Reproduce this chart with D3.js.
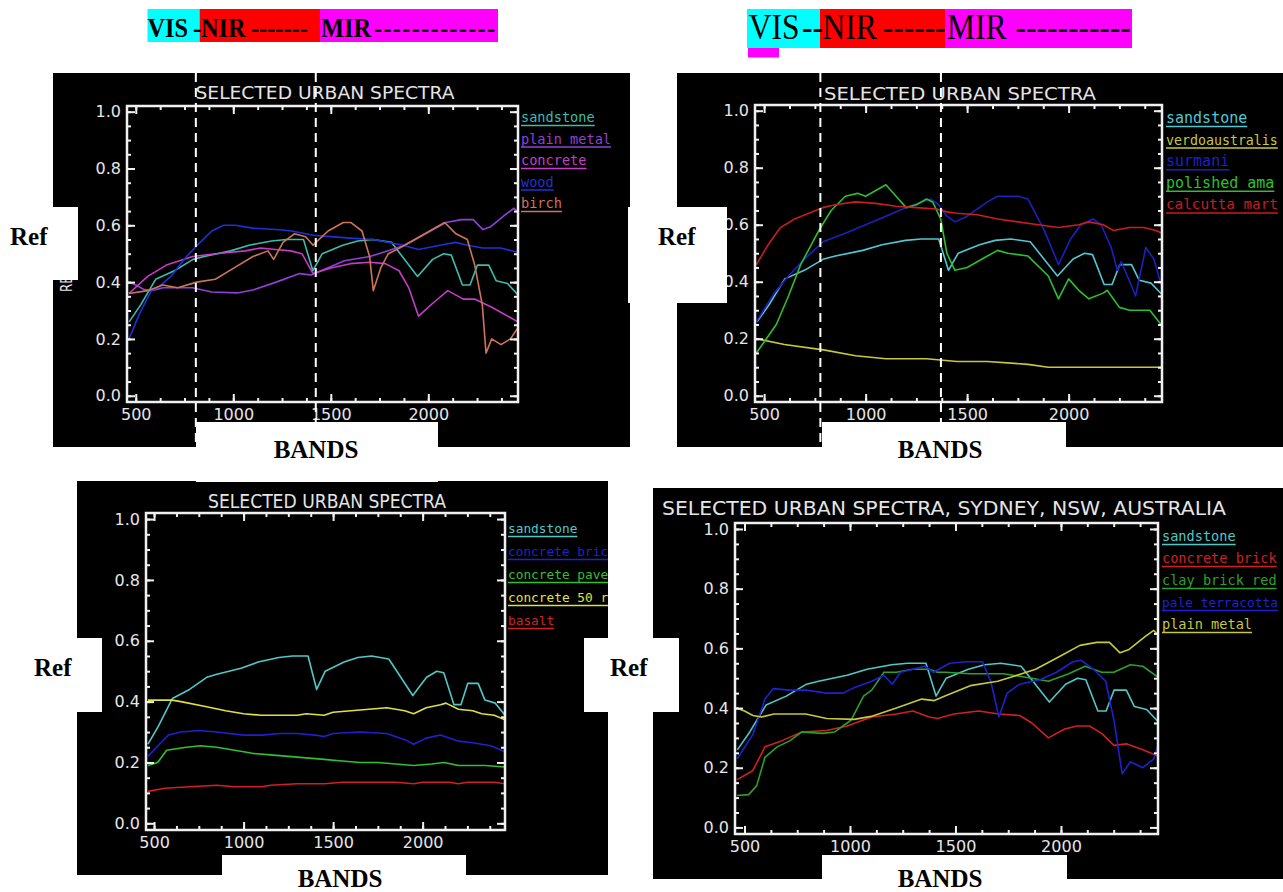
<!DOCTYPE html>
<html><head><meta charset="utf-8">
<script src="https://cdn.jsdelivr.net/npm/d3@7"></script>
<style>body{margin:0;background:#fff;}svg{display:block}</style>
</head><body>
<svg id="c" width="1283" height="892"></svg>
<script>
// ---------- data ----------
const xTickValues = [500, 1000, 1500, 2000];
const xMinorValues = [500, 625, 750, 875, 1000, 1125, 1250, 1375, 1500, 1625, 1750, 1875, 2000, 2125, 2250, 2375];
const yTickValues = [0.0, 0.2, 0.4, 0.6, 0.8, 1.0];
const yMinorValues = [0, 0.05, 0.1, 0.15, 0.2, 0.25, 0.3, 0.35, 0.4, 0.45, 0.5, 0.55, 0.6, 0.65, 0.7, 0.75, 0.8, 0.85, 0.9, 0.95, 1.0];
const yTickLabels = ["0.0", "0.2", "0.4", "0.6", "0.8", "1.0"];
const xTickLabels = ["500", "1000", "1500", "2000"];

const sandstone = [[466,0.26],[525,0.32],[602,0.41],[698,0.44],[794,0.48],[851,0.49],[986,0.51],[1081,0.53],[1197,0.545],[1273,0.55],[1360,0.55],[1408,0.44],[1456,0.50],[1561,0.53],[1638,0.545],[1715,0.55],[1811,0.54],[1945,0.42],[2022,0.48],[2079,0.50],[2118,0.495],[2175,0.39],[2214,0.39],[2252,0.46],[2310,0.46],[2348,0.405],[2406,0.395],[2460,0.355]];
const plainMetal = [[462,0.40],[500,0.39],[540,0.375],[580,0.37],[640,0.38],[790,0.38],[890,0.365],[1020,0.362],[1100,0.372],[1220,0.40],[1340,0.43],[1400,0.425],[1450,0.44],[1570,0.475],[1700,0.49],[1770,0.505],[1880,0.53],[2000,0.575],[2090,0.61],[2170,0.62],[2230,0.62],[2280,0.585],[2320,0.595],[2400,0.64],[2440,0.66],[2460,0.645]];
const concrete = [[465,0.36],[561,0.42],[657,0.46],[792,0.49],[908,0.50],[1062,0.51],[1139,0.52],[1217,0.515],[1294,0.51],[1352,0.50],[1409,0.43],[1500,0.45],[1600,0.465],[1700,0.47],[1780,0.465],[1850,0.44],[1900,0.38],[1950,0.28],[2030,0.33],[2100,0.37],[2180,0.34],[2240,0.34],[2330,0.31],[2460,0.26]];
const wood = [[465,0.20],[520,0.29],[580,0.37],[620,0.385],[680,0.42],[760,0.49],[830,0.54],[890,0.58],[950,0.60],[1010,0.60],[1100,0.59],[1220,0.585],[1300,0.58],[1410,0.565],[1500,0.56],[1600,0.555],[1720,0.55],[1870,0.53],[1950,0.515],[2060,0.53],[2140,0.54],[2200,0.53],[2280,0.52],[2370,0.52],[2460,0.505]];
const birch = [[465,0.36],[561,0.37],[638,0.39],[715,0.38],[812,0.40],[908,0.41],[1004,0.45],[1101,0.49],[1178,0.51],[1207,0.48],[1255,0.54],[1313,0.57],[1371,0.56],[1409,0.53],[1486,0.58],[1564,0.61],[1602,0.61],[1660,0.58],[1699,0.49],[1718,0.37],[1756,0.45],[1795,0.50],[1853,0.52],[1930,0.55],[2007,0.58],[2084,0.61],[2142,0.57],[2200,0.55],[2238,0.46],[2277,0.32],[2296,0.15],[2325,0.20],[2373,0.18],[2421,0.20],[2460,0.24]];

const verdoaustralis = [[462,0.20],[600,0.18],[800,0.16],[950,0.14],[1100,0.13],[1300,0.13],[1450,0.12],[1600,0.12],[1800,0.11],[1900,0.10],[2460,0.10]];
const surmani = [[462,0.26],[550,0.36],[620,0.42],[700,0.48],[790,0.54],[900,0.57],[1000,0.60],[1100,0.63],[1200,0.66],[1320,0.69],[1360,0.67],[1400,0.63],[1440,0.61],[1500,0.63],[1600,0.68],[1650,0.70],[1750,0.70],[1800,0.69],[1880,0.58],[1950,0.46],[2010,0.55],[2060,0.60],[2120,0.62],[2160,0.60],[2210,0.52],[2240,0.44],[2260,0.47],[2330,0.35],[2380,0.52],[2420,0.48],[2455,0.39]];
const polishedAmarillo = [[462,0.15],[560,0.25],[620,0.35],[680,0.46],[770,0.58],[830,0.65],[900,0.70],[960,0.71],[1000,0.70],[1050,0.72],[1100,0.74],[1150,0.70],[1200,0.66],[1250,0.67],[1300,0.69],[1330,0.68],[1370,0.62],[1400,0.50],[1440,0.44],[1500,0.45],[1600,0.49],[1650,0.51],[1700,0.50],[1800,0.49],[1900,0.42],[1950,0.34],[2000,0.41],[2050,0.37],[2100,0.34],[2170,0.36],[2190,0.37],[2250,0.31],[2300,0.30],[2400,0.30],[2455,0.25]];
const calcuttaMarble = [[462,0.46],[520,0.53],[580,0.59],[650,0.62],[720,0.64],[790,0.66],[850,0.67],[950,0.68],[1050,0.675],[1150,0.665],[1250,0.66],[1350,0.655],[1400,0.645],[1450,0.64],[1550,0.635],[1650,0.62],[1750,0.61],[1850,0.60],[1950,0.59],[2050,0.60],[2100,0.61],[2170,0.60],[2220,0.58],[2300,0.59],[2370,0.59],[2430,0.58],[2460,0.57]];

const concreteBrickA = [[466,0.22],[530,0.26],[580,0.29],[650,0.30],[750,0.305],[850,0.30],[1000,0.29],[1100,0.29],[1200,0.295],[1300,0.295],[1400,0.29],[1450,0.285],[1500,0.295],[1650,0.30],[1800,0.295],[1900,0.275],[1950,0.26],[2020,0.28],[2100,0.29],[2200,0.27],[2280,0.265],[2380,0.255],[2460,0.235]];
const concretePaver = [[466,0.19],[520,0.20],[570,0.24],[680,0.25],[760,0.255],[850,0.25],[950,0.24],[1050,0.23],[1150,0.225],[1250,0.22],[1350,0.215],[1450,0.21],[1550,0.205],[1650,0.20],[1750,0.20],[1850,0.195],[1950,0.19],[2050,0.195],[2120,0.20],[2200,0.19],[2350,0.19],[2460,0.185]];
const concrete50 = [[466,0.405],[600,0.405],[650,0.40],[780,0.385],[900,0.37],[1000,0.36],[1100,0.355],[1300,0.355],[1350,0.36],[1450,0.355],[1500,0.365],[1600,0.37],[1700,0.375],[1800,0.38],[1900,0.37],[1950,0.36],[2020,0.38],[2100,0.39],[2130,0.395],[2200,0.375],[2280,0.37],[2330,0.36],[2400,0.355],[2460,0.34]];
const basalt = [[466,0.105],[560,0.115],[700,0.12],[850,0.125],[950,0.12],[1100,0.12],[1150,0.125],[1300,0.13],[1450,0.13],[1550,0.135],[1700,0.135],[1850,0.135],[1950,0.13],[2000,0.135],[2150,0.135],[2200,0.13],[2250,0.135],[2400,0.135],[2460,0.13]];

const concreteBrickB = [[465,0.16],[539,0.19],[597,0.27],[675,0.29],[772,0.32],[889,0.325],[986,0.34],[1103,0.37],[1220,0.38],[1298,0.39],[1376,0.37],[1415,0.365],[1492,0.38],[1609,0.39],[1706,0.38],[1804,0.375],[1862,0.35],[1940,0.30],[2018,0.33],[2076,0.34],[2135,0.34],[2193,0.315],[2251,0.275],[2310,0.28],[2388,0.26],[2456,0.24]];
const clayBrickRed = [[465,0.107],[520,0.11],[558,0.14],[597,0.235],[655,0.27],[714,0.29],[772,0.32],[869,0.315],[928,0.32],[1006,0.36],[1064,0.44],[1103,0.46],[1161,0.52],[1220,0.52],[1298,0.53],[1376,0.53],[1415,0.52],[1453,0.52],[1570,0.515],[1726,0.515],[1862,0.50],[1940,0.49],[2037,0.515],[2115,0.54],[2193,0.52],[2251,0.52],[2329,0.545],[2388,0.54],[2456,0.505]];
const paleTerracotta = [[465,0.23],[539,0.31],[597,0.43],[636,0.465],[714,0.46],[792,0.46],[889,0.45],[967,0.45],[1025,0.47],[1103,0.49],[1161,0.51],[1200,0.48],[1240,0.52],[1356,0.54],[1395,0.52],[1473,0.55],[1550,0.555],[1628,0.555],[1667,0.49],[1706,0.37],[1745,0.45],[1804,0.48],[1901,0.495],[1979,0.52],[2057,0.555],[2096,0.56],[2154,0.53],[2212,0.49],[2251,0.36],[2290,0.18],[2329,0.22],[2388,0.20],[2440,0.23],[2460,0.275]];

const bandEdgesA = [808, 1423];
const bandEdgesB = [777, 1371];

// header segments: [text, x position]
const headerTextA = [["VIS",147.5],["-",193],["NIR",201],["-------",251],["MIR",321],["-------------",374]];
const headerTextB = [["VIS",748.7],["--",802],["NIR",822.6],["------",882.7],["MIR",947],["-----------",1015.5]];

// ---------- layout ----------
const svg = d3.select("#c");
const xDomain = [455, 2460];
const yDomain = [-0.022, 1.02];

const panels = [
  {id:"p1", bg:[53,73,577,374], f:{l:127,t:106,r:518,b:402}, title:"SELECTED URBAN SPECTRA", tx:325, ty:98.5, tw:259, tfs:18,
   legX:521, legY:122, legDy:21.5, lfs:13.6, edges:bandEdgesA, ytitle:[72,250,84],
   series:[["sandstone",sandstone,"#3cbcac"],["plain metal",plainMetal,"#9040d8"],["concrete",concrete,"#c83cc8"],["wood",wood,"#2030d8"],["birch",birch,"#d07458"]]},
  {id:"p2", bg:[677,73,606,374], f:{l:755,t:105,r:1162,b:402}, title:"SELECTED URBAN SPECTRA", tx:960, ty:100, tw:272, tfs:18,
   legX:1166, legY:123, legDy:21.6, lfs:15, edges:bandEdgesB, ytitle:null,
   series:[["sandstone",sandstone,"#50c8d4"],["verdoaustralis",verdoaustralis,"#c8c83c"],["surmani",surmani,"#1c20c0"],["polished ama",polishedAmarillo,"#2cc02c"],["calcutta mart",calcuttaMarble,"#c81e1e"]]},
  {id:"p3", bg:[77,481,531,394], f:{l:146,t:513,r:505,b:830}, title:"SELECTED URBAN SPECTRA", tx:327, ty:508, tw:238, tfs:20,
   legX:508, legY:533, legDy:23, lfs:12.8, edges:[], ytitle:null,
   series:[["sandstone",sandstone,"#50c8c8"],["concrete brick",concreteBrickA,"#2020d0"],["concrete pave",concretePaver,"#30c030"],["concrete 50 r",concrete50,"#e0e040"],["basalt",basalt,"#d02020"]]},
  {id:"p4", bg:[653,488,630,391], f:{l:735,t:523,r:1158,b:834}, title:"SELECTED URBAN SPECTRA, SYDNEY, NSW, AUSTRALIA", tx:944, ty:515, tw:564, tfs:20,
   legX:1162, legY:541, legDy:22, lfs:13.6, edges:[], ytitle:null,
   series:[["sandstone",sandstone,"#50c8c8"],["concrete brick",concreteBrickB,"#d02020"],["clay brick red",clayBrickRed,"#2ca02c"],["pale terracotta",paleTerracotta,"#2020d0"],["plain metal",plainMetal,"#c8c83c"]]}
];

const tickFont = "'DejaVu Sans', sans-serif";
const legendFont = "'DejaVu Sans Mono', monospace";
const pageRight = 1280;

panels.forEach(p => {
  const [bx,by,bw,bh] = p.bg;
  svg.append("clipPath").attr("id","clip-"+p.id).append("rect").attr("x",bx).attr("y",by).attr("width",bw).attr("height",bh);
  const g = svg.append("g").attr("clip-path","url(#clip-"+p.id+")");
  g.append("rect").attr("x",bx).attr("y",by).attr("width",bw).attr("height",bh).attr("fill","#000");

  const x = d3.scaleLinear().domain(xDomain).range([p.f.l, p.f.r]);
  const y = d3.scaleLinear().domain(yDomain).range([p.f.b, p.f.t]);

  g.append("text").attr("x",p.tx).attr("y",p.ty).attr("text-anchor","middle")
    .attr("fill","#e4e4e4").attr("font-family",tickFont).attr("font-size",p.tfs)
    .attr("textLength",p.tw).attr("lengthAdjust","spacingAndGlyphs").text(p.title);

  if (p.ytitle) {
    g.append("text").attr("transform",`translate(${p.ytitle[0]},${p.ytitle[1]}) rotate(-90)`).attr("text-anchor","middle")
      .attr("fill","#e4e4e4").attr("font-family",tickFont).attr("font-size",15)
      .attr("textLength",p.ytitle[2]).attr("lengthAdjust","spacingAndGlyphs").text("REFLECTANCE");
  }

  const line = d3.line().x(d=>x(d[0])).y(d=>y(d[1]));
  p.series.forEach(s => {
    g.append("path").datum(s[1]).attr("d",line).attr("fill","none").attr("stroke",s[2]).attr("stroke-width",1.6).attr("stroke-linejoin","round");
  });

  const axStyle = sel => { sel.select(".domain").remove(); sel.selectAll("line").attr("stroke","#f0f0f0").attr("stroke-width",2); sel.selectAll("text").attr("fill","#e6e6e6").attr("font-family",tickFont).attr("font-size",16); };
  g.append("g").attr("transform",`translate(0,${p.f.b})`).call(d3.axisBottom(x).tickValues(xMinorValues).tickSize(-4).tickFormat("")).call(axStyle);
  g.append("g").attr("transform",`translate(0,${p.f.b})`).call(d3.axisBottom(x).tickValues(xTickValues).tickSize(-8).tickPadding(7).tickFormat((d,i)=>xTickLabels[i])).call(axStyle);
  g.append("g").attr("transform",`translate(0,${p.f.t})`).call(d3.axisTop(x).tickValues(xMinorValues).tickSize(-4).tickFormat("")).call(axStyle);
  g.append("g").attr("transform",`translate(0,${p.f.t})`).call(d3.axisTop(x).tickValues(xTickValues).tickSize(-8).tickFormat("")).call(axStyle);
  g.append("g").attr("transform",`translate(${p.f.l},0)`).call(d3.axisLeft(y).tickValues(yMinorValues).tickSize(-4).tickFormat("")).call(axStyle);
  g.append("g").attr("transform",`translate(${p.f.l},0)`).call(d3.axisLeft(y).tickValues(yTickValues).tickSize(-8).tickPadding(6).tickFormat((d,i)=>yTickLabels[i])).call(axStyle);
  g.append("g").attr("transform",`translate(${p.f.r},0)`).call(d3.axisRight(y).tickValues(yMinorValues).tickSize(-4).tickFormat("")).call(axStyle);
  g.append("g").attr("transform",`translate(${p.f.r},0)`).call(d3.axisRight(y).tickValues(yTickValues).tickSize(-8).tickFormat("")).call(axStyle);

  g.append("rect").attr("x",p.f.l).attr("y",p.f.t).attr("width",p.f.r-p.f.l).attr("height",p.f.b-p.f.t)
    .attr("fill","none").attr("stroke","#f0f0f0").attr("stroke-width",2.5);

  p.edges.forEach(e => {
    g.append("line").attr("x1",x(e)).attr("x2",x(e)).attr("y1",by).attr("y2",by+bh)
      .attr("stroke","#fff").attr("stroke-width",2).attr("stroke-dasharray","9,6");
  });

  p.series.forEach((s,i) => {
    const ly = p.legY + i*p.legDy;
    const t = g.append("text").attr("x",p.legX).attr("y",ly).attr("fill",s[2])
      .attr("font-family",legendFont).attr("font-size",p.lfs).text(s[0]);
    let w = t.node().getComputedTextLength();
    if (p.legX + w > pageRight - 2) {   // shrink words that would run off the page edge
      const fs = p.lfs * (pageRight - 2 - p.legX) / w;
      t.attr("font-size", fs);
      w = t.node().getComputedTextLength();
    }
    g.append("line").attr("x1",p.legX).attr("x2",p.legX+w).attr("y1",ly+3.5).attr("y2",ly+3.5).attr("stroke",s[2]).attr("stroke-width",1.5);
  });
});

// ---------- white label boxes ----------
const labelFont = "'Liberation Serif', 'Times New Roman', serif";
const boxes = [
  {r:[0,207,78,73], t:"Ref", x:10, y:245, a:"start"},
  {r:[628,207,99,96], t:"Ref", x:658, y:245, a:"start"},
  {r:[196,422,242,60], t:"BANDS", x:316, y:458, a:"middle"},
  {r:[822,422,244,60], t:"BANDS", x:940, y:458, a:"middle"},
  {r:[0,638,102,74], t:"Ref", x:34, y:676, a:"start"},
  {r:[584,638,95,74], t:"Ref", x:610, y:676, a:"start"},
  {r:[222,855,244,40], t:"BANDS", x:340, y:887, a:"middle"},
  {r:[822,855,245,40], t:"BANDS", x:940, y:887, a:"middle"}
];
boxes.forEach(b => {
  svg.append("rect").attr("x",b.r[0]).attr("y",b.r[1]).attr("width",b.r[2]).attr("height",b.r[3]).attr("fill","#fff");
  svg.append("text").attr("x",b.x).attr("y",b.y).attr("text-anchor",b.a).attr("font-family",labelFont)
    .attr("font-weight","bold").attr("font-size",25).attr("fill","#000").text(b.t);
});

// ---------- spectral region headers ----------
const headerBoxesA = [["#00ffff",147.5,199.6],["#ff0000",199.6,320],["#ff00ff",320,498]];
const headerBoxesB = [["#00ffff",747,820],["#ff0000",820,945],["#ff00ff",945,1132]];
headerBoxesA.forEach(h => svg.append("rect").attr("x",h[1]).attr("y",9).attr("width",h[2]-h[1]).attr("height",33).attr("fill",h[0]));
headerBoxesB.forEach(h => svg.append("rect").attr("x",h[1]).attr("y",9).attr("width",h[2]-h[1]).attr("height",39).attr("fill",h[0]));
svg.append("rect").attr("x",748).attr("y",48).attr("width",31).attr("height",9.5).attr("fill","#ff00ff");

function header(segs, x0, y0, sx, size, weight, lastSpacing) {
  const t = svg.append("text").attr("transform",`translate(${x0},${y0}) scale(${sx},1)`)
    .attr("font-family",labelFont).attr("font-weight",weight).attr("font-size",size).attr("fill","#000");
  segs.forEach((s,i) => {
    const ts = t.append("tspan").attr("x",(s[1]-x0)/sx).attr("y",0).text(s[0]);
    if (i === segs.length-1) ts.attr("letter-spacing",lastSpacing);
  });
}
header(headerTextA, 147.5, 36.5, 0.87, 28, "bold", 1.5);
header(headerTextB, 748.7, 38.5, 0.9, 35, "normal", 0);
</script>
</body></html>
